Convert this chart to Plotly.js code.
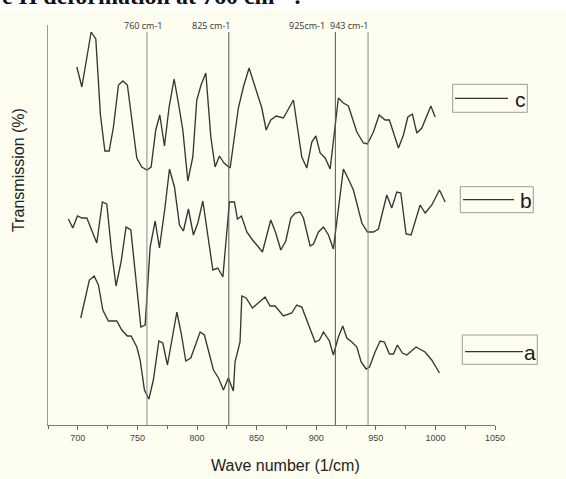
<!DOCTYPE html>
<html>
<head>
<meta charset="utf-8">
<script src="https://cdn.plot.ly/plotly-3.0.1.min.js"></script>
<style>html,body{margin:0;padding:0;background:#fff;}#chart{width:566px;height:479px;}</style>
</head>
<body>
<div id="chart"></div>
<script>
// Wavenumber (1/cm) and transmission (arbitrary, offset) for each spectrum
var wnC = [699.2,703.4,711.2,715.1,719,722.7,726.3,729.9,734.1,737.8,741.6,749.5,753.7,757.9,761.5,765.4,768.8,772.7,776.6,780.8,784.4,788.1,792.3,796.5,799.8,803.4,807.4,811.6,815.2,818.8,822.7,827.8,834.7,838.9,843.7,854.4,858,861.9,866.4,872.5,880.9,887.9,892.1,896.3,899.7,903.3,907.5,911.7,918.6,922.8,927,934.1,939.6,943,948,952.8,957.8,961.4,969,973.2,976.9,980.7,984.4,988.6,996.2,999.8];
var trC = [358,338,393,386,310,274,274,298,340,344,340,267,258,255,258,295,310,279,318,346,322,295,244,268,325,340,352,288,258,269,262,257,317,338,357,317,295,305,309,307,325,268,257,283,289,272,267,256,327,322,319,293,282,281,293,310,305,305,277,290,308,311,292,297,319,308];

var wnB = [692.1,695.8,699.7,703.4,707.6,711.7,715.9,720.6,724.3,728.5,732.1,736.3,740.5,744.5,749.5,752.9,756.5,760.7,764.9,768.5,773.2,776.9,781.1,785.3,788.6,792.8,797,800.7,804.9,809.6,813.3,817.5,821.7,827.2,831.4,833.9,837.3,841.8,846,854.9,861.9,866.1,870.3,874.5,878.7,882.3,886.5,889.3,894.9,897.7,901.9,906.1,910.3,914.4,922.8,927,931.2,938.3,943,948,952.2,959.2,963.4,967.6,971,975.4,979.6,987.2,991.4,997,1003.4,1008.2];
var trB = [206,197,209,207,207,195,182,223,221,172,139,163,198,195,135,98,100,178,204,177,218,256,238,200,194,216,190,202,224,185,155,157,148,223,223,206,209,193,186,173,205,192,175,184,207,212,213,207,179,181,193,198,190,176,256,246,235,202,193,193,196,230,217,233,232,191,190,220,212,220,235,223];

var wnA = [702.5,709.7,713.7,717.3,721,725.7,732.7,736.9,741.6,744.7,749.5,752.3,755.9,759.6,763.4,768,771.3,775.2,783.1,786.7,790.6,794.8,802.6,806.2,813.8,818,822.2,826.3,830.5,831.9,836.1,837.6,841.2,846.5,857.1,861.3,865.5,872.5,879.5,883.7,887.9,893.5,899.1,902.7,906.1,911.1,914.4,918.6,922.3,925.7,929.9,934.1,937.7,941.9,944.7,949.4,953.6,957.2,961.4,964.8,968.1,972.3,976,983.8,991.3,996.9,1003.4];
var trA = [107,145,149,140,115,104,104,95,89,89,78,65,35,26,45,84,82,60,113,92,64,67,93,90,55,47,35,47,34,63,83,129,127,117,128,119,119,109,112,120,118,100,83,85,93,84,70,88,99,87,83,78,63,56,58,73,84,83,71,71,80,72,70,78,73,65,52];

var markerWn = [758, 826.7, 916.1, 943.5];
var markerLabels = ['760 cm-1', '825 cm-1', '925cm-1', '943 cm-1'];
var seriesNames = ['c', 'b', 'a'];
var xTicks = [700, 750, 800, 850, 900, 950, 1000, 1050];

var L = 48, R = 495, T = 25, B = 425;
function px(x) { return (x - L) / (R - L); }
function py(y) { return (B - y) / (B - T); }

var lineStyle = {color: '#363636', width: 1.35};
var traces = [
  {x: wnC, y: trC, mode: 'lines', line: lineStyle, name: 'c', showlegend: false, hoverinfo: 'skip'},
  {x: wnB, y: trB, mode: 'lines', line: lineStyle, name: 'b', showlegend: false, hoverinfo: 'skip'},
  {x: wnA, y: trA, mode: 'lines', line: lineStyle, name: 'a', showlegend: false, hoverinfo: 'skip'}
];

var cream = '#fdfdf0';
var shapes = [
  {type: 'rect', xref: 'paper', yref: 'paper', x0: px(0), x1: px(566), y0: py(479), y1: py(10), fillcolor: cream, line: {width: 0}, layer: 'below'}
];
var lineColors = ['#8a8a8a', '#555555', '#555555', '#8a8a8a'];
markerWn.forEach(function (w, i) {
  shapes.push({type: 'line', xref: 'x', yref: 'y', x0: w, x1: w, y0: 0, y1: 393, line: {color: lineColors[i], width: 1}});
});

// legend boxes (drawn as separate framed samples)
var boxes = [
  {x0: 452.7, x1: 527.3, y0: 84.3, y1: 112.3, lx0: 455, lx1: 508, ly: 98.3, tx: 520},
  {x0: 460.3, x1: 533.3, y0: 186.7, y1: 212.7, lx0: 463, lx1: 514, ly: 199.7, tx: 526},
  {x0: 462.3, x1: 537.3, y0: 335, y1: 364.3, lx0: 465, lx1: 523, ly: 351.7, tx: 530}
];
var annotations = [];
boxes.forEach(function (b, i) {
  shapes.push({type: 'rect', xref: 'paper', yref: 'paper', x0: px(b.x0), x1: px(b.x1), y0: py(b.y1), y1: py(b.y0), line: {color: '#9a9a9a', width: 1}, fillcolor: 'rgba(0,0,0,0)'});
  shapes.push({type: 'line', xref: 'paper', yref: 'paper', x0: px(b.lx0), x1: px(b.lx1), y0: py(b.ly), y1: py(b.ly), line: {color: '#333', width: 1.2}});
  annotations.push({xref: 'paper', yref: 'paper', x: px(b.tx), y: py(b.ly + 1), text: seriesNames[i], showarrow: false, xanchor: 'center', yanchor: 'middle', font: {family: 'Liberation Sans, Arial', size: 21, color: '#1a1a1a'}});
});

var labelX = [143, 211, 307, 349];
markerLabels.forEach(function (t, i) {
  annotations.push({xref: 'paper', yref: 'paper', x: px(labelX[i]), y: py(25), text: t, showarrow: false, xanchor: 'center', yanchor: 'middle', font: {family: 'Open Sans, Noto Sans, sans-serif', size: 9, color: '#333'}});
});

annotations.push({xref: 'paper', yref: 'paper', x: px(285), y: py(465), text: 'Wave number (1/cm)', showarrow: false, xanchor: 'center', yanchor: 'middle', font: {family: 'Liberation Sans, Arial', size: 16, color: '#222'}});
annotations.push({xref: 'paper', yref: 'paper', x: px(18), y: py(170), text: 'Transmission (%)', textangle: -90, showarrow: false, xanchor: 'center', yanchor: 'middle', font: {family: 'Liberation Sans, Arial', size: 16, color: '#222'}});
annotations.push({xref: 'paper', yref: 'paper', x: px(0), y: py(-6), text: '<b>e H deformation at 760 cm<sup>-1</sup> .</b>', showarrow: false, xanchor: 'left', yanchor: 'middle', font: {family: 'Liberation Serif, Times New Roman', size: 24, color: '#111'}});

var layout = {
  width: 566, height: 479,
  margin: {l: L, r: 566 - R, t: T, b: 479 - B},
  paper_bgcolor: '#ffffff',
  plot_bgcolor: 'rgba(0,0,0,0)',
  showlegend: false,
  xaxis: {
    range: [675, 1050], tickvals: xTicks, ticktext: xTicks.map(String),
    ticks: 'outside', ticklen: 4, tickcolor: '#666', tickwidth: 1,
    minor: {dtick: 25, tick0: 675, ticks: 'outside', ticklen: 3, tickcolor: '#666'},
    showgrid: false, zeroline: false, showline: true, linecolor: '#777', linewidth: 1,
    tickfont: {family: 'Liberation Sans, Arial', size: 9, color: '#444'}
  },
  yaxis: {
    range: [0, 400], showticklabels: false, ticks: '', showgrid: false, zeroline: false,
    showline: true, linecolor: '#999', linewidth: 1
  },
  shapes: shapes,
  annotations: annotations
};

Plotly.newPlot('chart', traces, layout, {staticPlot: true, displayModeBar: false});
</script>
</body>
</html>
